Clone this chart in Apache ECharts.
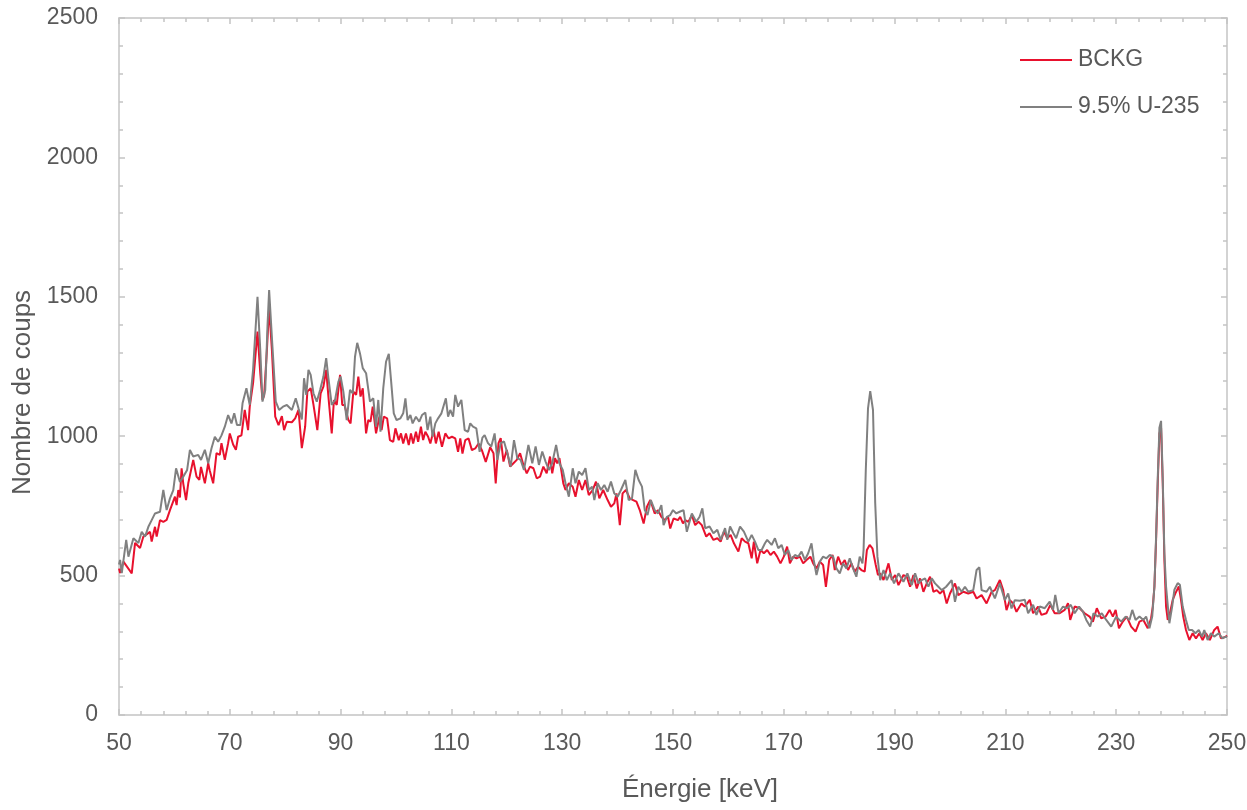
<!DOCTYPE html>
<html>
<head>
<meta charset="utf-8">
<title>Spectre gamma</title>
<script src="https://cdn.jsdelivr.net/npm/echarts@6/dist/echarts.min.js"></script>
<style>
  html, body { margin: 0; padding: 0; background: #ffffff; }
  #chart { width: 1247px; height: 810px; }
</style>
</head>
<body>
<div id="chart"></div>
<script>
// Series names, axis ranges and tick steps
const seriesNames = ['BCKG', '9.5% U-235'];
const energyRange = [50, 250];
const energyStep = 20;
const countRange = [0, 2500];
const countStep = 500;

// Background spectrum: [energy keV, counts]
const bckgSpectrum = [
  [50.0,525],[50.2,509],[50.8,550],[52.3,508],[52.9,617],[53.8,599],[54.4,640],[55.6,657],[55.9,622],[56.5,675],
  [56.8,640],[57.4,699],[58.0,693],[58.6,700],[59.2,735],[60.1,783],[60.4,753],[60.7,807],[61.0,780],[61.3,885],
  [61.6,830],[62.1,771],[62.5,831],[63.4,915],[64.0,855],[64.5,843],[64.8,890],[65.5,831],[66.1,903],[66.4,875],
  [67.0,831],[67.6,939],[68.2,933],[68.5,975],[69.1,915],[69.7,975],[70.0,1010],[70.6,970],[71.1,951],[71.5,998],
  [72.1,1003],[72.7,1094],[73.3,1022],[73.6,1106],[74.2,1190],[75.0,1375],[75.5,1226],[75.9,1130],[76.2,1146],[76.7,1309],
  [77.1,1464],[77.6,1309],[78.2,1070],[78.8,1040],[79.4,1072],[79.8,1022],[80.3,1052],[81.2,1050],[81.8,1064],[82.4,1094],
  [83.0,957],[83.6,1034],[84.0,1160],[84.6,1172],[85.1,1113],[85.8,1022],[86.4,1154],[86.9,1178],[87.4,1238],[87.8,1142],
  [88.4,1010],[88.8,1130],[89.3,1112],[89.9,1220],[90.3,1112],[90.7,1112],[91.4,1058],[91.8,1046],[92.3,1160],[92.8,1148],
  [93.2,1214],[93.6,1142],[94.0,1172],[94.6,1010],[95.0,1058],[95.4,1052],[95.8,1106],[96.4,1010],[97.0,1070],[97.4,1022],
  [97.8,1070],[98.4,1064],[98.9,986],[99.5,980],[99.9,1028],[100.5,986],[100.9,1010],[101.3,974],[101.8,1010],[102.3,968],
  [102.7,1010],[103.1,974],[103.6,1016],[104.0,980],[104.5,1034],[104.9,986],[105.3,1016],[105.8,998],[106.2,974],[106.8,1022],
  [107.2,974],[107.7,1016],[108.3,962],[108.9,1010],[109.5,992],[110.1,998],[110.7,992],[111.2,944],[111.6,992],[112.0,938],
  [112.5,986],[113.1,992],[113.7,950],[114.3,956],[114.9,974],[115.5,950],[116.2,908],[117.0,960],[117.6,939],[118.0,831],
  [118.5,975],[118.9,993],[119.4,909],[120.0,951],[120.6,891],[121.2,903],[121.8,915],[122.4,939],[123.0,897],[123.6,867],
  [124.2,891],[124.8,885],[125.4,849],[126.0,855],[126.6,891],[127.2,867],[127.8,927],[128.2,867],[128.7,921],[129.1,903],
  [129.5,921],[130.2,831],[130.6,807],[131.2,831],[131.9,819],[132.4,783],[133.0,843],[133.6,807],[134.2,843],[134.8,789],
  [135.5,807],[136.1,837],[136.7,777],[137.4,807],[138.2,771],[138.8,747],[139.4,759],[139.8,795],[140.4,681],[140.9,795],
  [141.5,807],[142.2,777],[142.8,771],[143.4,765],[144.0,735],[144.7,687],[145.3,747],[145.9,771],[146.7,723],[147.3,735],
  [147.9,711],[148.5,699],[149.1,711],[149.5,669],[150.1,705],[150.9,699],[151.3,711],[151.8,687],[152.2,699],[152.8,693],
  [153.4,717],[154.0,681],[154.6,693],[155.2,681],[156.0,640],[156.6,652],[157.3,628],[158.0,634],[158.6,622],[159.2,658],
  [159.8,634],[160.4,646],[161.0,616],[161.8,586],[162.4,634],[163.0,622],[163.6,616],[164.2,562],[164.6,622],[165.2,544],
  [165.8,592],[166.4,580],[167.0,592],[167.6,574],[168.2,586],[168.8,568],[169.4,544],[170.0,568],[170.6,604],[171.1,544],
  [171.7,568],[172.3,562],[172.9,568],[173.5,544],[174.1,556],[174.8,568],[175.3,544],[175.9,526],[176.5,550],[177.1,538],
  [177.6,460],[178.2,556],[178.8,574],[179.2,520],[179.8,568],[180.4,538],[181.0,556],[181.6,520],[182.2,544],[182.8,514],
  [183.4,532],[184.0,520],[184.6,514],[185.0,592],[185.5,610],[186.0,598],[186.6,538],[187.0,502],[187.4,508],[188.0,484],
  [188.9,544],[189.5,484],[190.1,502],[190.7,466],[191.6,502],[192.2,496],[192.8,460],[193.4,502],[194.0,454],[194.6,490],
  [195.2,442],[195.8,472],[196.4,496],[197.0,442],[197.6,448],[198.2,436],[198.8,448],[199.4,400],[200.0,436],[200.9,472],
  [201.5,430],[202.4,442],[203.3,436],[204.2,442],[204.8,418],[205.7,430],[206.6,400],[207.5,442],[208.1,448],[209.0,484],
  [209.6,448],[210.2,376],[210.8,412],[211.4,400],[212.0,370],[212.9,400],[213.5,389],[214.4,413],[215.0,365],[215.9,389],
  [216.5,359],[217.4,365],[218.1,395],[218.9,365],[219.8,365],[220.7,377],[221.3,401],[221.7,341],[222.5,389],[223.4,383],
  [224.3,365],[225.2,353],[225.8,335],[226.5,383],[227.3,347],[228.1,353],[228.8,377],[229.4,353],[229.9,377],[230.5,311],
  [231.2,335],[231.9,353],[232.7,317],[233.5,299],[234.2,335],[234.9,341],[235.7,311],[236.3,347],[236.6,389],[236.9,461],
  [237.2,628],[237.5,831],[237.8,1010],[238.1,1030],[238.4,831],[238.7,556],[239.0,389],[239.3,341],[239.7,365],[240.2,413],
  [240.7,437],[241.3,461],[241.7,413],[242.1,353],[242.6,305],[243.2,269],[243.8,293],[244.4,275],[245.0,293],[245.6,269],
  [246.2,293],[246.9,269],[247.7,305],[248.3,317],[248.9,275],[249.8,281],[250.0,285]
];

// Sample spectrum (9.5 % U-235): [energy keV, counts]
const u235Spectrum = [
  [50.0,540],[50.2,556],[50.5,509],[51.3,628],[51.7,568],[52.6,634],[53.5,617],[54.1,657],[54.7,640],[55.3,675],
  [55.9,699],[56.5,723],[57.4,729],[58.0,807],[58.6,735],[59.2,777],[59.8,807],[60.3,885],[61.0,836],[61.6,855],
  [62.3,879],[62.8,951],[63.4,927],[64.3,933],[64.8,915],[65.5,951],[66.1,903],[66.7,957],[67.3,998],[67.9,980],
  [68.5,1003],[69.1,1034],[69.7,1076],[70.3,1046],[70.8,1082],[71.3,1040],[71.9,1040],[72.3,1118],[73.0,1172],[73.6,1112],
  [74.2,1238],[75.0,1500],[75.5,1309],[75.9,1124],[76.4,1166],[76.8,1393],[77.1,1524],[77.7,1321],[78.3,1124],[78.9,1094],
  [79.6,1106],[80.3,1112],[81.2,1094],[81.9,1136],[82.4,1100],[83.0,1060],[83.4,1208],[83.8,1148],[84.2,1238],[84.6,1220],
  [85.1,1154],[85.7,1124],[86.3,1166],[86.9,1214],[87.4,1280],[87.8,1208],[88.4,1112],[89.0,1130],[89.6,1196],[90.0,1214],
  [90.5,1160],[91.1,1058],[91.7,1166],[92.2,1154],[92.6,1285],[93.0,1335],[93.5,1297],[94.0,1244],[94.6,1226],[95.3,1124],
  [95.9,1136],[96.4,1034],[96.8,1130],[97.2,1016],[97.7,1172],[98.2,1267],[98.7,1295],[99.1,1202],[99.6,1082],[100.1,1058],
  [100.8,1064],[101.3,1082],[101.7,1136],[102.1,1058],[102.6,1076],[103.0,1046],[103.6,1070],[104.2,1052],[104.7,1076],[105.3,1085],
  [105.7,1022],[106.2,1070],[106.6,998],[107.1,1046],[107.6,1064],[108.2,1082],[109.0,1136],[109.4,1070],[109.8,1094],[110.3,1070],
  [110.7,1148],[111.2,1106],[111.8,1130],[112.4,1022],[113.0,1016],[113.4,1046],[113.9,1034],[114.5,1028],[115.1,944],[115.6,995],
  [116.0,1004],[116.6,975],[117.2,963],[117.8,1010],[118.3,915],[118.9,975],[119.5,981],[120.1,939],[120.7,891],[121.3,986],
  [121.9,921],[122.5,915],[123.1,879],[123.9,969],[124.6,903],[125.2,963],[125.8,897],[126.4,945],[127.0,909],[127.6,879],
  [128.2,903],[128.9,969],[129.5,903],[130.1,879],[130.6,831],[131.2,783],[131.9,885],[132.4,831],[133.0,873],[133.6,861],
  [134.2,885],[134.8,807],[135.4,819],[135.8,771],[136.4,831],[137.0,807],[137.6,825],[138.2,801],[138.8,837],[139.4,795],
  [140.0,783],[140.6,807],[141.4,843],[142.0,771],[142.6,777],[143.2,879],[143.8,843],[144.4,819],[144.9,735],[145.4,717],
  [146.0,771],[146.7,735],[147.3,723],[147.9,753],[148.3,681],[148.9,711],[149.5,717],[150.0,735],[150.6,723],[151.2,729],
  [151.9,735],[152.5,657],[153.4,723],[154.2,693],[154.8,711],[155.3,741],[155.8,670],[156.6,676],[157.3,652],[158.0,664],
  [158.6,628],[159.4,670],[159.8,628],[160.3,676],[160.9,652],[161.4,634],[162.1,676],[162.8,658],[163.6,622],[164.2,646],
  [164.8,622],[165.4,592],[166.0,592],[166.6,616],[167.0,628],[167.8,610],[168.4,634],[169.0,598],[169.6,610],[170.2,574],
  [170.8,592],[171.4,556],[172.0,574],[172.6,568],[173.2,586],[173.8,556],[174.4,580],[175.0,616],[175.4,556],[175.9,502],
  [176.5,550],[177.1,568],[177.7,562],[178.3,574],[178.9,568],[179.5,526],[180.1,508],[180.7,544],[181.3,526],[181.9,562],
  [182.5,526],[183.1,496],[183.7,568],[184.2,544],[184.4,592],[184.8,879],[185.2,1100],[185.6,1162],[186.1,1094],[186.5,760],
  [186.9,568],[187.4,484],[188.0,520],[188.6,484],[189.2,508],[189.9,472],[190.7,508],[191.6,478],[192.3,508],[193.1,466],
  [193.7,508],[194.3,472],[194.9,484],[195.5,490],[196.1,460],[196.7,490],[197.3,472],[197.9,460],[198.5,448],[199.3,460],
  [200.3,484],[200.9,406],[201.5,460],[202.1,442],[202.7,460],[203.3,442],[204.2,448],[204.8,520],[205.3,530],[205.7,448],
  [206.6,442],[207.2,460],[208.1,418],[209.0,472],[209.9,412],[210.5,436],[211.1,382],[211.7,412],[212.6,410],[213.5,413],
  [214.1,365],[215.0,395],[215.6,359],[216.2,389],[217.1,383],[218.0,407],[218.6,377],[219.0,431],[219.6,365],[220.4,389],
  [221.1,383],[221.8,395],[222.5,365],[223.3,389],[224.0,371],[224.6,341],[225.3,317],[225.9,365],[226.7,353],[227.4,365],
  [228.2,341],[229.1,317],[230.0,353],[230.9,335],[231.7,353],[232.4,341],[232.9,377],[233.5,341],[234.2,353],[234.9,341],
  [235.4,353],[236.0,311],[236.5,353],[236.9,461],[237.2,640],[237.5,850],[237.8,1030],[238.1,1055],[238.4,850],[238.7,580],
  [239.0,461],[239.6,329],[240.1,389],[240.5,449],[241.1,473],[241.5,467],[242.0,389],[242.6,341],[243.1,305],[243.7,305],
  [244.3,293],[244.9,305],[245.5,281],[245.9,305],[246.5,269],[247.1,293],[247.7,281],[248.5,293],[249.2,275],[249.8,281],
  [250.0,280]
];

const axisColor = '#C4C4C4';
const textColor = '#595959';
const fontFamily = '"Liberation Sans", Arial, sans-serif';
const bckgColor = '#E8112D';
const u235Color = '#808080';

// Shared styling for the four sides of the plot frame
function frameAxis(showLabels) {
  return {
    axisLine: { show: true, onZero: false, lineStyle: { color: axisColor, width: 1.5 } },
    axisTick: { show: true, inside: true, length: 6, lineStyle: { color: axisColor, width: 1.5 } },
    minorTick: { show: true, splitNumber: 5, length: 4, lineStyle: { color: axisColor, width: 1.5 } },
    splitLine: { show: false },
    minorSplitLine: { show: false },
    axisLabel: {
      show: showLabels, color: textColor, fontSize: 23, fontFamily: fontFamily,
      formatter: function (v) { return String(v); }
    }
  };
}

const xBottom = Object.assign(frameAxis(true), {
  type: 'value', position: 'bottom',
  min: energyRange[0], max: energyRange[1], interval: energyStep,
  name: 'Énergie [keV]', nameLocation: 'middle', nameGap: 62,
  nameTextStyle: { color: textColor, fontSize: 26, fontFamily: fontFamily, padding: [0, 0, 0, 54] }
});
xBottom.axisLabel.margin = 17;

const xTop = Object.assign(frameAxis(false), {
  type: 'value', position: 'top',
  min: energyRange[0], max: energyRange[1], interval: energyStep
});

const yLeft = Object.assign(frameAxis(true), {
  type: 'value', position: 'left',
  min: countRange[0], max: countRange[1], interval: countStep,
  name: 'Nombre de coups', nameLocation: 'middle', nameGap: 70,
  nameTextStyle: { color: textColor, fontSize: 26, fontFamily: fontFamily, padding: [0, 52, 0, 0] }
});
yLeft.axisLabel.margin = 21;

const yRight = Object.assign(frameAxis(false), {
  type: 'value', position: 'right',
  min: countRange[0], max: countRange[1], interval: countStep
});

const chart = echarts.init(document.getElementById('chart'), null, { renderer: 'canvas' });

chart.setOption({
  backgroundColor: '#ffffff',
  animation: false,
  grid: { left: 119, right: 20, top: 18, bottom: 95, containLabel: false, outerBoundsMode: 'none' },
  legend: {
    show: true,
    orient: 'vertical',
    left: 1020,
    top: 48,
    padding: 0,
    itemWidth: 52,
    itemHeight: 2,
    itemGap: 23,
    icon: 'rect',
    data: seriesNames,
    textStyle: { color: textColor, fontSize: 23, fontFamily: fontFamily, lineHeight: 24, padding: [0, 0, 0, 1] }
  },
  xAxis: [xBottom, xTop],
  yAxis: [yLeft, yRight],
  series: [
    {
      name: seriesNames[0],
      type: 'line',
      xAxisIndex: 0, yAxisIndex: 0,
      data: bckgSpectrum,
      showSymbol: false, symbol: 'none',
      lineStyle: { color: bckgColor, width: 2 },
      itemStyle: { color: bckgColor },
      z: 2
    },
    {
      name: seriesNames[1],
      type: 'line',
      xAxisIndex: 0, yAxisIndex: 0,
      data: u235Spectrum,
      showSymbol: false, symbol: 'none',
      lineStyle: { color: u235Color, width: 2 },
      itemStyle: { color: u235Color },
      z: 3
    }
  ]
});
</script>
</body>
</html>
